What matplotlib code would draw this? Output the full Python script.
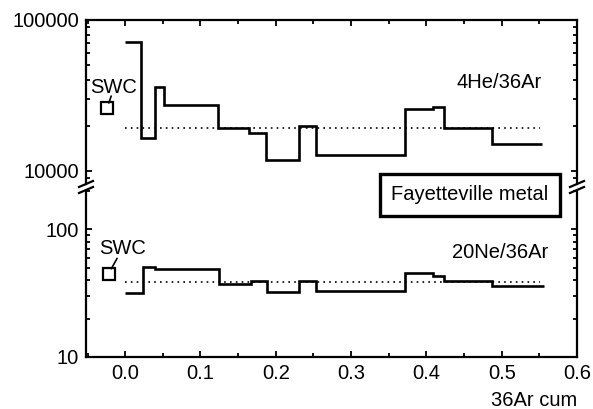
import matplotlib
matplotlib.use('Agg')
import matplotlib.pyplot as plt
from matplotlib import ticker
from matplotlib.lines import Line2D

plt.rcParams['font.family'] = ['Liberation Sans', 'DejaVu Sans']

# cumulative 36Ar release (step edges) and ratios per step
he_edges = [0.0, 0.021, 0.040, 0.051, 0.123, 0.164, 0.187, 0.2315, 0.254,
            0.372, 0.409, 0.423, 0.487, 0.554]
he_ratio = [72000, 16500, 36000, 27500, 19200, 17900, 11800, 19900, 12800,
            25800, 26400, 19200, 15000]
he_mean = 19400

ne_edges = [0.0, 0.0235, 0.040, 0.1245, 0.167, 0.188, 0.2315, 0.254,
            0.372, 0.409, 0.423, 0.487, 0.556]
ne_ratio = [31.8, 50.4, 48.9, 37.1, 39.3, 32.4, 39.5, 33.0, 45.2, 43.3,
            39.3, 35.9]
ne_mean = 39

mean_span = [0.0, 0.551]

swc_x = [-0.024, -0.022]
swc_y = [26000, 45]

W, H = 593, 409
fig = plt.figure(figsize=(W / 100, H / 100), dpi=100)
left, right = 86 / W, 577 / W
ax_top = fig.add_axes([left, 1 - 184 / H, right - left, (184 - 20) / H])
ax_bot = fig.add_axes([left, 1 - 357 / H, right - left, (357 - 191) / H])

FS = 14.5
LW = 1.9

for ax in (ax_top, ax_bot):
    ax.set_yscale('log')
    ax.set_xlim(-0.052, 0.6)
    for s in ax.spines.values():
        s.set_linewidth(1.6)
    ax.xaxis.set_major_locator(ticker.MultipleLocator(0.1))
    ax.xaxis.set_minor_locator(ticker.MultipleLocator(0.05))
    ax.yaxis.set_major_formatter(ticker.FuncFormatter(lambda v, _: f'{v:g}'))
    ax.yaxis.set_minor_formatter(ticker.NullFormatter())
    ax.tick_params(which='both', direction='in', labelsize=FS, width=1.3)
    ax.tick_params(which='major', length=4.5, pad=5)
    ax.tick_params(which='minor', length=3)

ax_top.set_ylim(8200, 100000)
ax_bot.set_ylim(10, 200)

ax_top.spines['bottom'].set_visible(False)
ax_bot.spines['top'].set_visible(False)
ax_top.tick_params(axis='x', which='both', bottom=False, top=True,
                   labelbottom=False)
ax_bot.tick_params(axis='x', which='both', bottom=True, top=False)
ax_bot.xaxis.set_major_formatter(ticker.FormatStrFormatter('%.1f'))
for ax in (ax_top, ax_bot):
    ax.tick_params(axis='y', which='both', left=True, right=True)

# step data
ax_top.stairs(he_ratio, he_edges, baseline=None, color='black', lw=LW)
ax_bot.stairs(ne_ratio, ne_edges, baseline=None, color='black', lw=LW)
ax_top.plot(mean_span, [he_mean, he_mean], color='black', lw=1.2,
            linestyle=(0, (1, 2.5)))
ax_bot.plot(mean_span, [ne_mean, ne_mean], color='black', lw=1.2,
            linestyle=(0, (1, 2.5)))

# solar wind composition
for ax, x, y, off, sa in ((ax_top, swc_x[0], swc_y[0], (5, 15), 6.5),
                          (ax_bot, swc_x[1], swc_y[1], (10, 18), 8)):
    ax.plot([x], [y], marker='s', markersize=8, markerfacecolor='white',
            markeredgecolor='black', markeredgewidth=1.6, linestyle='none')
    ax.annotate('SWC', xy=(x, y), xytext=off, textcoords='offset points',
                ha='center', va='center', fontsize=FS,
                arrowprops=dict(arrowstyle='-', color='black', lw=1.2,
                                patchA=None, shrinkA=sa, shrinkB=4))

fig.text(542 / W, 1 - 83 / H, '4He/36Ar', ha='right', va='center',
         fontsize=FS)
fig.text(548 / W, 1 - 252 / H, '20Ne/36Ar', ha='right', va='center',
         fontsize=FS)

fig.text(470 / W, 1 - 195 / H, 'Fayetteville metal', ha='center',
         va='center', fontsize=FS,
         bbox=dict(boxstyle='square,pad=0.55', facecolor='white',
                   edgecolor='black', linewidth=2.4))

fig.text(577 / W, 1 - 400 / H, '36Ar cum', ha='right', va='center',
         fontsize=FS)

# axis break marks
for xp in (86, 577):
    for yp in (184, 190):
        fig.add_artist(Line2D([(xp - 7) / W, (xp + 7) / W],
                              [1 - (yp + 3) / H, 1 - (yp - 3) / H],
                              color='black', lw=1.6))

fig.savefig('out.png', dpi=100)
